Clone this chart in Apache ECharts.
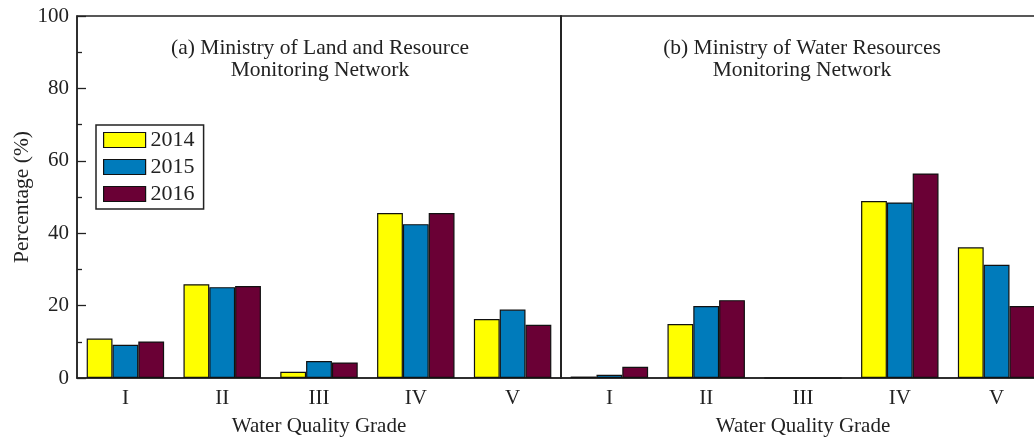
<!DOCTYPE html>
<html>
<head>
<meta charset="utf-8">
<script src="https://cdn.jsdelivr.net/npm/echarts@6/dist/echarts.min.js"></script>
<style>
  html, body { margin: 0; padding: 0; background: #fff; }
  #chart { width: 1034px; height: 437px; }
</style>
</head>
<body>
<div id="chart"></div>
<script>
// Water quality grades and survey years
const grades = ['I', 'II', 'III', 'IV', 'V'];
const years = ['2014', '2015', '2016'];
const yTicks = [0, 20, 40, 60, 80, 100];

// (a) Ministry of Land and Resource monitoring network, % of wells per grade
const land2014 = [10.9, 25.9, 1.7, 45.6, 16.3];
const land2015 = [9.2, 25.1, 4.7, 42.5, 18.9];
const land2016 = [10.1, 25.4, 4.3, 45.6, 14.7];

// (b) Ministry of Water Resources monitoring network, % of wells per grade
const water2014 = [0.4, 14.9, 0, 48.9, 36.1];
const water2015 = [0.9, 19.9, 0, 48.5, 31.3];
const water2016 = [3.1, 21.5, 0, 56.5, 19.9];

const colors = ['#FFFF00', '#007BBB', '#6A0035'];
const FONT = '"Liberation Serif", "Times New Roman", serif';
const INK = '#222';

const chart = echarts.init(document.getElementById('chart'), null, { renderer: 'canvas' });

function xAxisFor(gridIndex) {
  return {
    type: 'category',
    gridIndex: gridIndex,
    data: grades,
    axisLine: { show: true, lineStyle: { color: INK, width: 1.5 } },
    axisTick: { show: false },
    axisLabel: { color: INK, fontFamily: FONT, fontSize: 21, margin: 10 },
    name: 'Water Quality Grade',
    nameLocation: 'middle',
    nameGap: 38,
    nameTextStyle: { color: INK, fontFamily: FONT, fontSize: 21 }
  };
}

function barsFor(values, yearIdx, gridIdx) {
  return {
    type: 'bar',
    name: years[yearIdx],
    xAxisIndex: gridIdx,
    yAxisIndex: gridIdx,
    data: values,
    barGap: '0%',
    barCategoryGap: '20%',
    itemStyle: { color: colors[yearIdx], borderColor: '#111', borderWidth: 1.2 }
  };
}

const titleStyle = { fontFamily: FONT, fontSize: 21.5, fontWeight: 'normal', color: INK, lineHeight: 22, align: 'center' };

const option = {
  backgroundColor: '#fff',
  animation: false,
  textStyle: { fontFamily: FONT },
  title: [
    { text: '(a) Ministry of Land and Resource\nMonitoring Network', left: 320, top: 37, padding: 0, textAlign: 'center', textStyle: titleStyle },
    { text: '(b) Ministry of Water Resources\nMonitoring Network', left: 802, top: 37, padding: 0, textAlign: 'center', textStyle: titleStyle }
  ],
  legend: {
    data: years,
    orient: 'vertical',
    left: 96, top: 125,
    icon: 'rect',
    itemWidth: 42, itemHeight: 15, itemGap: 5,
    padding: [4, 9, 4, 7],
    borderColor: INK, borderWidth: 1.5,
    textStyle: { fontFamily: FONT, fontSize: 22, color: INK, lineHeight: 15, padding: [3, 0, 0, 0] },
    itemStyle: { borderColor: '#111', borderWidth: 1.2 },
    selectedMode: false
  },
  grid: [
    { left: 77, top: 16, width: 484, height: 362, show: true, borderColor: INK, borderWidth: 1.5, outerBoundsMode: 'none' },
    // panel (b) runs past the right edge of the canvas
    { left: 561, top: 16, width: 484, height: 362, show: true, borderColor: INK, borderWidth: 1.5, outerBoundsMode: 'none' }
  ],
  xAxis: [xAxisFor(0), xAxisFor(1)],
  yAxis: [
    {
      type: 'value', gridIndex: 0,
      min: yTicks[0], max: yTicks[yTicks.length - 1], interval: 20,
      axisLine: { show: true, lineStyle: { color: INK, width: 1.5 } },
      axisTick: { show: true, inside: true, length: 9, lineStyle: { color: INK, width: 1.3 } },
      minorTick: { show: true, splitNumber: 2, length: 5, lineStyle: { color: INK, width: 1.3 } },
      splitLine: { show: false },
      axisLabel: { color: INK, fontFamily: FONT, fontSize: 21, margin: 8 },
      name: 'Percentage (%)',
      nameLocation: 'middle',
      nameGap: 41,
      nameTextStyle: { color: INK, fontFamily: FONT, fontSize: 21.5 }
    },
    {
      type: 'value', gridIndex: 1,
      min: yTicks[0], max: yTicks[yTicks.length - 1], interval: 20,
      axisLine: { show: true, lineStyle: { color: INK, width: 1.5 } },
      axisTick: { show: false },
      splitLine: { show: false },
      axisLabel: { show: false }
    }
  ],
  series: [
    barsFor(land2014, 0, 0),
    barsFor(land2015, 1, 0),
    barsFor(land2016, 2, 0),
    barsFor(water2014, 0, 1),
    barsFor(water2015, 1, 1),
    barsFor(water2016, 2, 1)
  ]
};

chart.setOption(option);
</script>
</body>
</html>
